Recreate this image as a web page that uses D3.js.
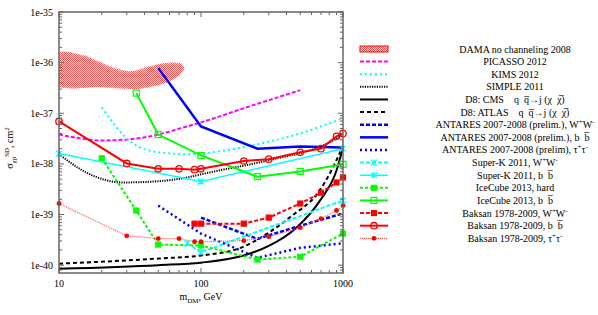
<!DOCTYPE html>
<meta charset="utf-8">
<body style="margin:0;background:#fff">
<script src="https://cdn.jsdelivr.net/npm/d3@7"></script>
<script>

// plot frame: 10..1000 GeV horizontally, 7e-41..1e-35 cm^2 vertically
const width = 598, height = 315;
const margin = {top: 12, right: 255, bottom: 42, left: 59};

// data, [m_DM (GeV), sigma (cm^2)]
const dama = [[10,1.55e-36],[14.8,1.4e-36],[19.4,1.03e-36],[25.7,7.5e-37],[33,6.8e-37],[44,8.6e-37],
              [58,1.0e-36],[71,9.8e-37],[76,7.8e-37],[71,5.7e-37],[58,4.1e-37],[44,3.3e-37],
              [33,3.0e-37],[19.4,3.3e-37],[10,3.4e-37]];
const picasso = [[10,3.8e-38],[14,3.2e-38],[19.4,2.9e-38],[29,3.0e-38],[50,3.8e-38],[71,5.0e-38],
                 [100,6.6e-38],[220,1.37e-37],[500,2.85e-37]];
const kims = [[20,1.31e-37],[33,2.55e-38],[51,1.69e-38],[80,1.55e-38],[100,1.6e-38],[190,2.1e-38],
              [500,4.0e-38],[1000,8.0e-38]];
const simple = [[10,1.55e-38],[16,6.5e-39],[28,4.3e-39],[47,4.5e-39],[80,5.4e-39],[107,6.5e-39],
                [300,1.18e-38],[720,2.3e-38],[1000,3.7e-38]];
const d8cms = [[10,8.5e-41],[50,1.0e-40],[100,1.12e-40],[200,1.55e-40],[300,2.4e-40],[470,5.5e-40],
               [690,1.9e-39],[900,7.4e-39],[1000,2.1e-38]];
const d8atlas = [[10,1.07e-40],[50,1.35e-40],[100,1.55e-40],[190,2.2e-40],[300,4.4e-40],[440,9.6e-40],
                 [660,2.6e-39],[850,8.5e-39],[1000,2.3e-38]];
const antWW = [[100,8.7e-40],[250,3.3e-40],[500,6.0e-40],[1000,1.05e-39]];
const antBB = [[50,7.8e-37],[100,5.5e-38],[250,2.0e-38],[500,2.2e-38],[1000,2.1e-38]];
const antTT = [[50,1.5e-39],[100,4.2e-40],[250,1.4e-40],[500,2.2e-40],[1000,2.7e-40]];
const skWW = [[80,2.7e-40],[100,1.8e-40],[1000,1.9e-39]];
const skBB = [[10,1.6e-38],[100,4.5e-39],[1000,2.0e-38]];
const icHard = [[20,1.29e-38],[35,1.2e-39],[50,2.55e-40],[100,2.45e-40],[250,1.29e-40],[500,1.47e-40],[1000,4.2e-40]];
const icBB = [[35,2.5e-37],[50,3.8e-38],[100,1.47e-38],[250,5.6e-39],[500,7.1e-39],[1000,9.8e-39]];
const bakWW = [[90,6.6e-40],[100,6.6e-40],[200,6.6e-40],[300,8.7e-40],[500,1.65e-39],[700,2.7e-39],
               [900,4.3e-39],[1000,5.4e-39]];
const bakBB = [[10,6.9e-38],[30,1.02e-38],[50,8.0e-39],[70,8.0e-39],[90,7.7e-39],[100,8.0e-39],
               [200,1.14e-38],[300,1.24e-38],[500,1.69e-38],[700,2.0e-38],[900,3.5e-38],[1000,4.0e-38]];
const bakTT = [[10,1.65e-39],[30,3.8e-40],[50,3.35e-40],[70,3.35e-40],[90,2.9e-40],[100,2.9e-40],
               [200,3.05e-40],[300,3.65e-40],[500,5.5e-40],[700,8.3e-40],[900,1.2e-39],[1000,1.5e-39]];

const xTicks = [10, 100, 1000];
const yTicks = [1e-35, 1e-36, 1e-37, 1e-38, 1e-39, 1e-40];

const series = [
  {d: picasso, c: "#ff00ff", w: 2, dash: "4,2", smooth: true, label: "PICASSO 2012"},
  {d: kims, c: "#00ffff", w: 2, dash: "2,3", smooth: true, label: "KIMS 2012"},
  {d: simple, c: "#000", w: 2, dash: "1.2,1.2", smooth: true, label: "SIMPLE 2011"},
  {d: d8cms, c: "#000", w: 2, dash: null, smooth: true, label: "D8: CMS    q  q\u0305\u2192j (\u03c7  \u03c7\u0305)"},
  {d: d8atlas, c: "#000", w: 2, dash: "4,3", smooth: true, label: "D8: ATLAS    q  q\u0305\u2192j (\u03c7  \u03c7\u0305)"},
  {d: antWW, c: "#0000ff", w: 2.5, dash: "4,2", label: "ANTARES 2007-2008 (prelim.), W^{+}W^{-}"},
  {d: antBB, c: "#0000ff", w: 2.5, dash: null, label: "ANTARES 2007-2008 (prelim.), b  b\u0305"},
  {d: antTT, c: "#0000ff", w: 2.5, dash: "2,3", label: "ANTARES 2007-2008 (prelim), \u03c4^{+}\u03c4^{-}"},
  {d: skWW, c: "#00ffff", w: 2, dash: "4,2", mk: "star", label: "Super-K 2011, W^{+}W^{-}"},
  {d: skBB, c: "#00ffff", w: 1.5, dash: null, mk: "star", label: "Super-K 2011, b  b\u0305"},
  {d: icHard, c: "#00ff00", w: 2, dash: "3,2", mk: "fsq", label: "IceCube 2013, hard"},
  {d: icBB, c: "#00ff00", w: 2, dash: null, mk: "osq", label: "IceCube 2013, b  b\u0305"},
  {d: bakWW, c: "#ff0000", w: 2, dash: "4,2", mk: "fsq", label: "Baksan 1978-2009, W^{+}W^{-}"},
  {d: bakBB, c: "#ff0000", w: 2, dash: null, mk: "ocirc", label: "Baksan 1978-2009, b  b\u0305"},
  {d: bakTT, c: "#ff5a5a", w: 1.3, dash: "1,1", mk: "fcirc", mc: "#ff0000", label: "Baksan 1978-2009, \u03c4^{+}\u03c4^{-}"}
];

const svg = d3.select("body").append("svg")
  .attr("width", width).attr("height", height)
  .style("font-family", "'Liberation Serif', 'DejaVu Serif', serif");

const x = d3.scaleLog().domain([10, 1000]).range([margin.left, width - margin.right]);
const y = d3.scaleLog().domain([7e-41, 1e-35]).range([height - margin.bottom, margin.top]);
const x0 = x.range()[0], x1 = x.range()[1], y0 = y.range()[0], y1 = y.range()[1];

const defs = svg.append("defs");
defs.append("clipPath").attr("id", "plot").append("rect")
  .attr("x", x0).attr("y", y1).attr("width", x1 - x0).attr("height", y0 - y1);
const pat = defs.append("pattern").attr("id", "hatch")
  .attr("patternUnits", "userSpaceOnUse").attr("width", 2).attr("height", 2);
pat.append("rect").attr("width", 2).attr("height", 2).attr("fill", "#fff0f0");
pat.append("rect").attr("width", 1).attr("height", 1).attr("fill", "#ff5050");
pat.append("rect").attr("x", 1).attr("y", 1).attr("width", 1).attr("height", 1).attr("fill", "#ff5050");

// rich text: ^{..} superscript, _{..} subscript
function rich(t, str, size) {
  t.style("white-space", "pre");
  const parts = str.split(/(\^\{[^}]*\}|_\{[^}]*\})/).filter(s => s);
  let shift = 0;
  parts.forEach(p => {
    let s = 0, txt = p, fs = size;
    if (p.startsWith("^{")) { s = -size * 0.4; txt = p.slice(2, -1); fs = size * 0.7; }
    else if (p.startsWith("_{")) { s = size * 0.3; txt = p.slice(2, -1); fs = size * 0.7; }
    t.append("tspan").attr("dy", s - shift).attr("font-size", fs).text(txt);
    shift = s;
  });
}

function marker(g, type, cx, cy, col) {
  if (type === "fsq" || type === "osq") {
    const h = type === "fsq" ? 2.5 : 3;
    g.append("rect").attr("x", cx - h).attr("y", cy - h).attr("width", 2 * h).attr("height", 2 * h)
      .attr("fill", type === "fsq" ? col : "none").attr("stroke", col).attr("stroke-width", 1.2);
  } else if (type === "ocirc") {
    g.append("circle").attr("cx", cx).attr("cy", cy).attr("r", 3.2)
      .attr("fill", "none").attr("stroke", col).attr("stroke-width", 1.3);
  } else if (type === "fcirc") {
    g.append("circle").attr("cx", cx).attr("cy", cy).attr("r", 2.4).attr("fill", col);
  } else if (type === "star") {
    const r = 3;
    g.append("path").attr("d",
        `M${cx - r},${cy - r}L${cx + r},${cy + r}M${cx - r},${cy + r}L${cx + r},${cy - r}M${cx},${cy - r}L${cx},${cy + r}`)
      .attr("stroke", col).attr("stroke-width", 1.2).attr("fill", "none");
  }
}

const plot = svg.append("g").attr("clip-path", "url(#plot)");

// DAMA region
plot.append("path")
  .attr("d", d3.line().x(d => x(d[0])).y(d => y(d[1])).curve(d3.curveCardinalClosed.tension(0.2))(dama))
  .attr("fill", "url(#hatch)");

const lineLin = d3.line().x(d => x(d[0])).y(d => y(d[1]));
const lineSm = d3.line().x(d => x(d[0])).y(d => y(d[1])).curve(d3.curveMonotoneX);

series.forEach(s => {
  plot.append("path").attr("d", (s.smooth ? lineSm : lineLin)(s.d))
    .attr("fill", "none").attr("stroke", s.c).attr("stroke-width", s.w)
    .attr("stroke-dasharray", s.dash);
});
const mg = svg.append("g");
series.filter(s => s.mk).forEach(s => {
  s.d.forEach(d => marker(mg, s.mk, x(d[0]), y(d[1]), s.mc || s.c));
});

// axes, ticks pointing inwards on all sides
const minorX = [], minorY = [];
for (let e = 10; e < 1000; e *= 10) for (let k = 2; k < 10; k++) minorX.push(e * k);
for (let e = -41; e < -35; e++) for (let k = 2; k < 10; k++) {
  const v = k * Math.pow(10, e);
  if (v > 7e-41 && v < 1e-35) minorY.push(v);
}
const ax = svg.append("g").attr("stroke", "#666").attr("stroke-width", 1);
xTicks.forEach(v => {
  ax.append("line").attr("x1", x(v)).attr("x2", x(v)).attr("y1", y0).attr("y2", y0 - 5);
  ax.append("line").attr("x1", x(v)).attr("x2", x(v)).attr("y1", y1).attr("y2", y1 + 5);
});
minorX.forEach(v => {
  ax.append("line").attr("x1", x(v)).attr("x2", x(v)).attr("y1", y0).attr("y2", y0 - 3);
  ax.append("line").attr("x1", x(v)).attr("x2", x(v)).attr("y1", y1).attr("y2", y1 + 3);
});
yTicks.forEach(v => {
  ax.append("line").attr("y1", y(v)).attr("y2", y(v)).attr("x1", x0).attr("x2", x0 + 5);
  ax.append("line").attr("y1", y(v)).attr("y2", y(v)).attr("x1", x1).attr("x2", x1 - 5);
});
minorY.forEach(v => {
  ax.append("line").attr("y1", y(v)).attr("y2", y(v)).attr("x1", x0).attr("x2", x0 + 3);
  ax.append("line").attr("y1", y(v)).attr("y2", y(v)).attr("x1", x1).attr("x2", x1 - 3);
});
svg.append("rect").attr("x", x0).attr("y", y1).attr("width", x1 - x0).attr("height", y0 - y1)
  .attr("fill", "none").attr("stroke", "#666").attr("stroke-width", 1.5);

svg.append("g").selectAll("text").data(xTicks).join("text")
  .attr("x", d => x(d)).attr("y", y0 + 14).attr("text-anchor", "middle")
  .attr("font-size", 10).text(d => d);
svg.append("g").selectAll("text").data(yTicks).join("text")
  .attr("x", x0 - 6).attr("y", d => y(d) + 3.5).attr("text-anchor", "end")
  .attr("font-size", 10).text(d => "1e" + Math.round(Math.log10(d)));

const xl = svg.append("text").attr("x", 201).attr("y", 300).attr("text-anchor", "middle");
rich(xl, "m_{DM}, GeV", 10);
const yl = svg.append("text").attr("transform", "translate(13,148) rotate(-90)").attr("text-anchor", "middle");
rich(yl, "\u03c3_{\u03c7p}^{SD}, cm^{2}", 10);

// legend
const lg = svg.append("g");
const ly = i => 49 + i * 12.62;
lg.append("rect").attr("x", 360).attr("y", ly(0) - 3).attr("width", 28).attr("height", 6)
  .attr("fill", "url(#hatch)").attr("stroke", "#ff0000").attr("stroke-width", 1);
lg.append("text").attr("x", 515).attr("y", ly(0) + 3.5).attr("text-anchor", "middle")
  .attr("font-size", 10).text("DAMA no channeling 2008");
series.forEach((s, i) => {
  const yy = ly(i + 1);
  lg.append("line").attr("x1", 360).attr("x2", 388).attr("y1", yy).attr("y2", yy)
    .attr("stroke", s.c).attr("stroke-width", s.w).attr("stroke-dasharray", s.dash);
  if (s.mk) marker(lg, s.mk, 374, yy, s.mc || s.c);
  const t = lg.append("text").attr("x", 515).attr("y", yy + 3.5).attr("text-anchor", "middle");
  rich(t, s.label, 10);
});

</script>
</body>
